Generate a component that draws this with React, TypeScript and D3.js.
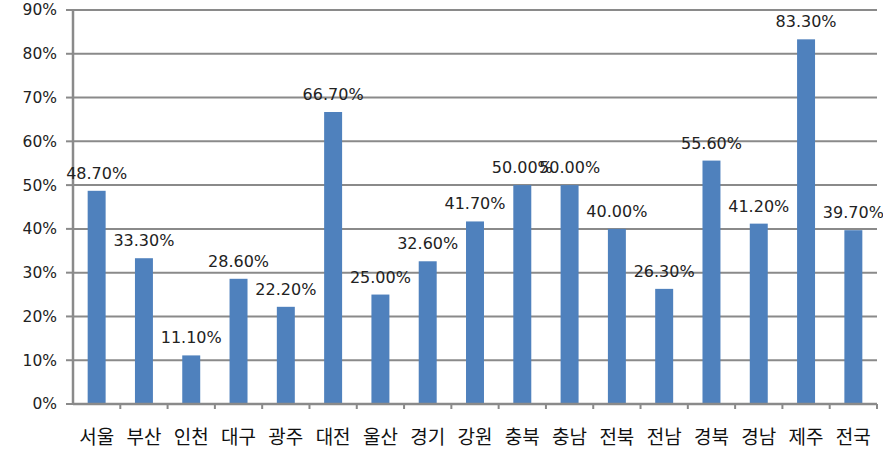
import React from "react";
import * as d3 from "d3";

const categories = ["서울", "부산", "인천", "대구", "광주", "대전", "울산", "경기", "강원", "충북", "충남", "전북", "전남", "경북", "경남", "제주", "전국"];
const values = [48.7, 33.3, 11.1, 28.6, 22.2, 66.7, 25.0, 32.6, 41.7, 50.0, 50.0, 40.0, 26.3, 55.6, 41.2, 83.3, 39.7];
const yTicks = [0, 10, 20, 30, 40, 50, 60, 70, 80, 90];

const W = 883;
const H = 471;
const left = 73;
const right = 877;
const top = 10;
const bottom = 404;

export default function App() {
  const x = d3.scaleBand<string>().domain(categories).range([left, right]).paddingInner(0.62).paddingOuter(0.31);
  const xb = d3.scaleBand<string>().domain(categories).range([left, right]);
  const y = d3.scaleLinear().domain([0, 90]).range([bottom, top]);
  const grid = "#8a8a8a";
  return (
    <svg width={W} height={H} style={{ position: "absolute", left: 0, top: 0, background: "#fff" }}>
      {yTicks.map((t) => (
        <g key={t}>
          {t > 0 && <line x1={left} x2={right} y1={y(t)} y2={y(t)} stroke={grid} strokeWidth={2} />}
          <line x1={left - 7} x2={left} y1={y(t)} y2={y(t)} stroke={grid} strokeWidth={2} />
          <text x={57} y={y(t)} dy="0.35em" textAnchor="end" fontFamily="DejaVu Sans, Verdana, sans-serif" fontSize={15.5} fill="#222">
            {t}%
          </text>
        </g>
      ))}
      {categories.map((c, i) => (
        <rect key={c} x={x(c)} y={y(values[i])} width={x.bandwidth()} height={bottom - y(values[i])} fill="#4F81BD" />
      ))}
      <line x1={left} x2={left} y1={top} y2={bottom} stroke={grid} strokeWidth={2.5} />
      <line x1={left} x2={right} y1={bottom} y2={bottom} stroke={grid} strokeWidth={2.5} />
      {categories.map((c) => (
        <line key={"t" + c} x1={(xb(c) as number) + xb.bandwidth()} x2={(xb(c) as number) + xb.bandwidth()} y1={bottom} y2={bottom + 5} stroke={grid} strokeWidth={2} />
      ))}
      {categories.map((c, i) => (
        <text key={"v" + c} x={(x(c) as number) + x.bandwidth() / 2} y={y(values[i]) - 12} textAnchor="middle" fontFamily="DejaVu Sans, Verdana, sans-serif" fontSize={16} fill="#222">
          {values[i].toFixed(2)}%
        </text>
      ))}
      {categories.map((c) => (
        <text key={"c" + c} x={(xb(c) as number) + xb.bandwidth() / 2} y={444} textAnchor="middle" fontFamily="Noto Sans CJK KR, sans-serif" fontSize={19} fill="#111">
          {c}
        </text>
      ))}
    </svg>
  );
}
